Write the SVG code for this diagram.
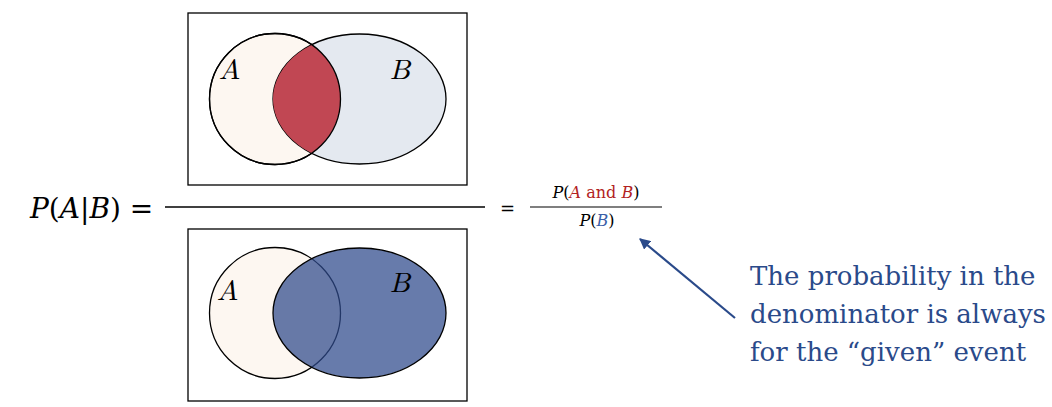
<svg xmlns="http://www.w3.org/2000/svg" width="1052" height="407" viewBox="0 0 1052 407">
<style>
.box{fill:none;stroke:#000;stroke-width:1.3}
.c{stroke:#000;stroke-width:1.3}
.lbl{font-family:"Latin Modern Math","DejaVu Serif","Liberation Serif",serif;font-style:italic;font-size:28px}
.m{font-family:"DejaVu Serif","Liberation Serif",serif;fill:#000}
.note{font-family:"DejaVu Serif","Liberation Serif",serif;font-size:26px;fill:#2a4a8a}
</style>
<defs>
<clipPath id="clipA"><circle cx="275" cy="99" r="65.5"/></clipPath>
<marker id="ah" viewBox="0 0 10 10" refX="9" refY="5" markerWidth="5" markerHeight="5" orient="auto"><path d="M0,0L10,5L0,10z" fill="#2a4a8a"/></marker>
</defs>
<g id="top">
<rect class="box" x="188" y="13" width="279" height="172"/>
<circle class="c" cx="275" cy="99" r="65.5" fill="#fdf7f1"/>
<ellipse class="c" cx="359.5" cy="99" rx="86.5" ry="65" fill="#e4e9f0"/>
<ellipse cx="359.5" cy="99" rx="86.5" ry="65" fill="#c14753" clip-path="url(#clipA)"/>
<circle class="c" cx="275" cy="99" r="65.5" fill="none"/>
<text class="lbl" x="219" y="79">A</text>
<text class="lbl" x="390" y="79">B</text>
</g>
<g id="bottom">
<rect class="box" x="188" y="229" width="279" height="172"/>
<circle class="c" cx="275" cy="313" r="65.5" fill="#fdf7f1"/>
<ellipse class="c" cx="359.5" cy="313" rx="86.5" ry="65" fill="#2e4a8c" fill-opacity="0.73"/>
<text class="lbl" x="217" y="300">A</text>
<text class="lbl" x="390" y="292">B</text>
</g>
<g id="formula">
<text class="m" x="30" y="218" font-size="28"><tspan font-style="italic">P</tspan>(<tspan font-style="italic">A</tspan>|<tspan font-style="italic">B</tspan>) =</text>
<line x1="165" y1="207" x2="485" y2="207" stroke="#000" stroke-width="1.5"/>
<text class="m" x="500" y="215" font-size="18">=</text>
<text class="m" x="596" y="198" font-size="16" text-anchor="middle"><tspan font-style="italic">P</tspan>(<tspan font-style="italic" fill="#b22222">A</tspan><tspan fill="#b22222"> and </tspan><tspan font-style="italic" fill="#b22222">B</tspan>)</text>
<line x1="530" y1="207" x2="662" y2="207" stroke="#000" stroke-width="1.2"/>
<text class="m" x="597" y="226" font-size="16" text-anchor="middle"><tspan font-style="italic">P</tspan>(<tspan font-style="italic" fill="#3b5fa8">B</tspan>)</text>
</g>
<g id="connectors">
<line x1="735" y1="318" x2="640" y2="239" stroke="#2a4a8a" stroke-width="2.2" marker-end="url(#ah)"/>
</g>
<g id="note">
<text class="note" x="750" y="285">The probability in the</text>
<text class="note" x="750" y="323">denominator is always</text>
<text class="note" x="750" y="361">for the “given” event</text>
</g>
</svg>
